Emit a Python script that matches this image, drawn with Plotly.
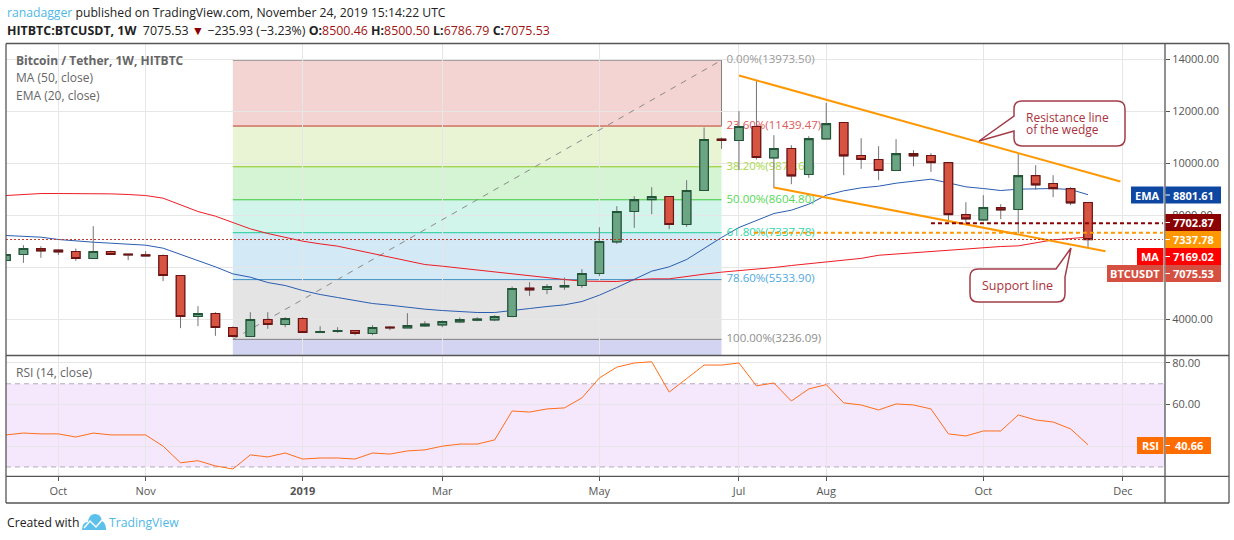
import pandas as pd
import plotly.graph_objects as go

W, H = 1234, 540
FONT = "Open Sans"

dates = pd.date_range("2018-09-10", periods=63, freq="7D")

opens = [6268, 6499, 6730, 6666, 6615, 6345, 6615, 6512, 6486, 6461, 5691, 4115, 4230, 3692, 3345, 3999,
         3807, 4038, 3499, 3538, 3576, 3461, 3704, 3679, 3756, 3794, 3909, 3973, 3986, 4115, 5204, 5153,
         5256, 5307, 5768, 6986, 8153, 8614, 8730, 7653, 8961, 10935, 10884, 11422, 10217, 10576, 9576,
         10947, 11576, 10307, 10153, 9730, 10383, 10307, 10037, 8037, 7832, 8307, 8230, 9537, 9230, 9037, 8500.46]
highs = [6510, 6858, 6820, 6691, 6730, 7589, 6653, 6512, 6627, 6499, 5691, 4512, 4281, 3730, 4281, 4281,
         4089, 4089, 3743, 3704, 3576, 3781, 3743, 4243, 3935, 3961, 4076, 4089, 4166, 5268, 5435, 5358,
         5614, 5935, 7550, 8358, 8743, 9089, 8730, 9358, 11384, 11000, 12012, 13204, 11089, 10704, 11050,
         12332, 11576, 10973, 10665, 10935, 10512, 10396, 10037, 8512, 8781, 8435, 10383, 9935, 9550, 9089, 8500.5]
lows = [6260, 6179, 6371, 6486, 6256, 6332, 6486, 6281, 6435, 5474, 3666, 3743, 3371, 3307, 3333, 3640,
        3704, 3486, 3486, 3486, 3397, 3397, 3589, 3679, 3730, 3704, 3871, 3935, 3935, 4089, 4909, 4974,
        5140, 5217, 5666, 6909, 7525, 8050, 7473, 7563, 8961, 10563, 9743, 10153, 9056, 9204, 9448,
        10947, 9550, 9794, 9358, 9730, 9896, 9678, 7819, 7717, 7794, 7858, 7319, 8986, 8704, 8396, 6786.79]
closes = [6499, 6730, 6640, 6602, 6345, 6615, 6499, 6486, 6448, 5691, 4115, 4230, 3692, 3345, 3999, 3807,
          4038, 3499, 3538, 3576, 3461, 3692, 3679, 3769, 3820, 3922, 3999, 4012, 4115, 5191, 5140, 5268,
          5307, 5768, 6999, 8153, 8614, 8730, 7653, 8961, 10922, 10884, 11422, 10230, 10576, 9524, 10960,
          11537, 10294, 10153, 9730, 10383, 10294, 10037, 8037, 7871, 8307, 8217, 9537, 9178, 9037, 8486, 7075.53]

ema_20 = [7230, 7204, 7166, 7076, 7012, 6973, 6935, 6897, 6858, 6743, 6512, 6281, 6025, 5755, 5627, 5422,
          5307, 5115, 4961, 4845, 4743, 4615, 4550, 4461, 4397, 4345, 4307, 4269, 4269, 4333, 4422, 4499,
          4563, 4692, 4935, 5230, 5538, 5858, 6025, 6307, 6730, 7153, 7538, 7794, 8076, 8204, 8435,
          8781, 8948, 9063, 9127, 9242, 9332, 9396, 9255, 9101, 9037, 8960, 9012, 9037, 9037, 8999, 8801.61]
ma_50 = [8768, 8807, 8845, 8845, 8845, 8845, 8832, 8807, 8768, 8666, 8422, 8153, 7973, 7730, 7486, 7307,
         7153, 7012, 6909, 6820, 6679, 6538, 6384, 6243, 6115, 6050, 5974, 5897, 5820, 5743, 5666, 5614,
         5538, 5474, 5461, 5461, 5525, 5563, 5563, 5666, 5743, 5820, 5871, 5922, 5999, 6076, 6150,
         6220, 6290, 6350, 6470, 6520, 6575, 6614, 6665, 6729, 6768, 6806, 6832, 6960, 7063, 7114, 7169.02]
rsi_14 = [45.4, 46.3, 45.9, 45.9, 44.4, 46.3, 45.4, 45.4, 45.4, 40, 32, 33, 30.5, 29, 35.8, 34.8,
          36.7, 33.8, 34.3, 34.3, 33.8, 36.7, 36.2, 37.7, 38.2, 40, 41, 41, 43, 56.9, 56.4, 57.9,
          58.4, 63.2, 72.8, 78, 80, 80.6, 66, 72.5, 79, 79, 80, 69, 70.4, 61.7, 67.5,
          69.6, 60.8, 59.8, 57.4, 60.3, 59.8, 57.9, 45.9, 44.9, 47.3, 47.3, 55, 52.6, 51.6, 48.3, 40.66]

fib_labels = ["0.00%(13973.50)", "23.60%(11439.47)", "38.20%(9873.68)", "50.00%(8604.80)",
              "61.80%(7337.78)", "78.60%(5533.90)", "100.00%(3236.09)"]
fib_prices = [13973.5, 11439.47, 9873.68, 8604.8, 7337.78, 5533.9, 3236.09]
fib_lines = ["#808080", "#c0392b", "#8bc81e", "#3cc83c", "#1ecd9b", "#3d8fc4", "#808080"]
fib_text = ["#9a9a9a", "#e0585a", "#a8d84a", "#55d855", "#2ed6a8", "#4fa9dd", "#8e8e8e"]
fib_fills = ["rgba(200,40,30,.2)", "rgba(145,200,40,.2)", "rgba(42,200,40,.2)", "rgba(30,205,155,.2)",
             "rgba(35,145,205,.2)", "rgba(120,120,120,.2)", "rgba(35,35,190,.2)"]

date_ticks = ["2018-10-01", "2018-11-05", "2019-01-07", "2019-03-04", "2019-05-06", "2019-07-01",
              "2019-08-05", "2019-10-07", "2019-12-02"]
date_labels = ["Oct", "Nov", "<b>2019</b>", "Mar", "May", "Jul", "Aug", "Oct", "Dec"]
price_ticks = [4000, 6000, 8000, 10000, 12000, 14000]
rsi_ticks = [40, 60, 80]
rsi_labels = ["", "60.00", "80.00"]  # the RSI tag covers 40.00

upper_x, upper_y = ["2019-07-01", "2019-12-01"], [13385, 9308]
lower_x, lower_y = ["2019-07-15", "2019-11-25"], [9077, 6627]

UP, UP_EDGE = "#6ba583", "#225437"
DOWN, DOWN_EDGE = "#d75442", "#6b1414"
WICK = "#737375"
AXIS = "#555555"
GRID = "#e6e6e6"


def px(x):
    return x / W


def py(y):
    return 1 - y / H


def box(x0, y0, x1, y1, color, layer="above"):
    return dict(type="rect", xref="paper", yref="paper", x0=px(x0), x1=px(x1), y0=py(y0), y1=py(y1),
                fillcolor=color, line_width=0, layer=layer)


def rule(x0, y0, x1, y1, color=AXIS, width=1.3):
    return dict(type="line", xref="paper", yref="paper", x0=px(x0), x1=px(x1), y0=py(y0), y1=py(y1),
                line=dict(color=color, width=width), layer="above")


def path(points, **kw):
    # points are (cmd, x, y) or (cmd, cx, cy, x, y) in screen pixels
    d = ""
    for p in points:
        if p[0] == "Z":
            d += "Z"
        else:
            d += p[0] + " ".join(f"{px(p[i]):.5f},{py(p[i + 1]):.5f}" for i in range(1, len(p), 2))
    return dict(type="path", xref="paper", yref="paper", path=d, layer="above", **kw)


def note(x, y, text, size=12, color=AXIS, anchor="left", **kw):
    return dict(xref="paper", yref="paper", x=px(x), y=py(y), text=text, showarrow=False, xanchor=anchor,
                yanchor="middle", align="left", font=dict(family=FONT, size=size, color=color),
                borderpad=0, **kw)


fig = go.Figure()

# base layer, stays behind the candles
fig.add_trace(go.Scatter(x=[dates[13], dates[41]], y=[fib_prices[6], fib_prices[0]], mode="lines",
                         line=dict(color="#8a8a8a", width=1, dash="6px,6px"), hoverinfo="skip"))
fig.add_trace(go.Scatter(x=dates, y=ma_50, mode="lines", line=dict(color="#ee1c25", width=1), hoverinfo="skip"))
fig.add_trace(go.Scatter(x=dates, y=ema_20, mode="lines", line=dict(color="#2a5db0", width=1), hoverinfo="skip"))
fig.add_trace(go.Scatter(x=["2019-06-26"] * 7, y=fib_prices, mode="text", text=fib_labels, textposition="middle right",
                         textfont=dict(family=FONT, size=11.5, color=fib_text), hoverinfo="skip"))

# candles: wicks first, then the bodies with a darker edge
fig.add_trace(go.Candlestick(x=dates, open=opens, high=highs, low=lows, close=closes, yaxis="y3",
                             whiskerwidth=0, hoverinfo="skip",
                             increasing=dict(fillcolor=UP, line=dict(color=WICK, width=1)),
                             decreasing=dict(fillcolor=DOWN, line=dict(color=WICK, width=1))))
fig.add_trace(go.Candlestick(x=dates, open=opens, close=closes, yaxis="y3",
                             high=[max(a, b) for a, b in zip(opens, closes)],
                             low=[min(a, b) for a, b in zip(opens, closes)],
                             whiskerwidth=0, hoverinfo="skip",
                             increasing=dict(fillcolor=UP, line=dict(color=UP_EDGE, width=1.2)),
                             decreasing=dict(fillcolor=DOWN, line=dict(color=DOWN_EDGE, width=1.2))))

# drawings on top
for xs, ys in [(upper_x, upper_y), (lower_x, lower_y)]:
    fig.add_trace(go.Scatter(x=xs, y=ys, mode="lines", yaxis="y3", line=dict(color="#ff9800", width=2), hoverinfo="skip"))
fig.add_trace(go.Scatter(x=[dates[53], "2019-12-18"], y=[7702.87, 7702.87], mode="lines", yaxis="y3",
                         line=dict(color="#8b0000", width=2, dash="4px,3px"), hoverinfo="skip"))
fig.add_trace(go.Scatter(x=["2019-07-07", "2019-12-18"], y=[7337.78, 7337.78], mode="lines", yaxis="y3",
                         line=dict(color="#ff9800", width=2, dash="4px,3px"), hoverinfo="skip"))
fig.add_trace(go.Scatter(x=[dates[0], "2019-12-18"], y=[closes[-1], closes[-1]], mode="lines", yaxis="y3",
                         line=dict(color="#c0392b", width=1, dash="2px,2px"), hoverinfo="skip"))

fig.add_trace(go.Scatter(x=dates, y=rsi_14, mode="lines", xaxis="x2", yaxis="y2",
                         line=dict(color="#ff6d1a", width=1), hoverinfo="skip"))

shapes = []
for i in range(7):
    top = fib_prices[i]
    bottom = fib_prices[i + 1] if i < 6 else 2615
    shapes.append(dict(type="rect", xref="x", yref="y", x0=dates[13], x1=dates[41], y0=bottom, y1=top,
                       fillcolor=fib_fills[i], line_width=0, layer="below"))
    shapes.append(dict(type="line", xref="x", yref="y", x0=dates[13], x1=dates[41], y0=top, y1=top,
                       line=dict(color=fib_lines[i], width=1), layer="below"))
shapes.append(dict(type="line", xref="x", yref="y", x0=dates[41], x1=dates[41], y0=fib_prices[1], y1=fib_prices[0],
                   line=dict(color="#808080", width=1), layer="below"))

# rsi band
shapes.append(dict(type="rect", xref="x2", yref="y2", x0=dates[0], x1="2019-12-18 21:00", y0=30, y1=70,
                   fillcolor="rgba(155,30,240,.1)", line_width=0, layer="below"))
for lvl in (30, 70):
    shapes.append(dict(type="line", xref="x2", yref="y2", x0=dates[0], x1="2019-12-18 21:00", y0=lvl, y1=lvl,
                       line=dict(color="#b5a8bd", width=1, dash="5px,4px"), layer="below"))

# frame
shapes += [rule(6, 43.5, 1229, 43.5), rule(6, 503, 1229, 503), rule(6, 43.5, 6, 503), rule(1229, 43.5, 1229, 503),
           rule(1165, 43.5, 1165, 503), rule(6, 355.5, 1229, 355.5), rule(6, 476.3, 1229, 476.3)]

annotations = [
    note(6, 12, '<span style="color:#4fb8e8">ranadagger</span> published on TradingView.com, November 24, 2019 15:14:22 UTC',
         size=12.2, color="#222222"),
    note(6, 30, '<b>HITBTC:BTCUSDT, 1W</b>  7075.53 <span style="color:#8b0000">▼</span> −235.93 (−3.23%) '
                '<b>O:</b><span style="color:#a01414">8500.46</span> <b>H:</b><span style="color:#a01414">8500.50</span> '
                '<b>L:</b><span style="color:#a01414">6786.79</span> <b>C:</b><span style="color:#a01414">7075.53</span>',
         size=12.4, color="#222222"),
    note(15, 60, "<b>Bitcoin / Tether, 1W, HITBTC</b>", size=12, color="#666666"),
    note(15, 77, "MA (50, close)", size=12, color="#666666"),
    note(15, 95, "EMA (20, close)", size=12, color="#666666"),
    note(15, 372, "RSI (14, close)", size=12, color="#666666"),
    note(6, 522, "Created with", size=12.2, color="#222222"),
    note(108, 522, "TradingView", size=12.2, color="#4fb8e8"),
]

# price tags on the axis
tags = [("EMA", "8801.61", "#0d47a1", 195, 1131), (None, "7702.87", "#8b0000", 222.5, None),
        (None, "7337.78", "#ff9800", 239.5, None), ("MA", "7169.02", "#ff0000", 256.5, 1137),
        ("BTCUSDT", "7075.53", "#d55040", 273.5, 1107), ("RSI", "40.66", "#ff6d00", 445.5, 1137)]
for name, value, color, y, left in tags:
    right = 1211 if name == "RSI" else 1221
    shapes.append(box(1165.5, y - 8.5, right, y + 8.5, color))
    shapes.append(rule(1165.5, y, 1170, y, color="#ffffff", width=1))
    annotations.append(note(1193 if name != "RSI" else 1189, y, f"<b>{value}</b>", size=11, color="#ffffff", anchor="center"))
    if name:
        shapes.append(box(left, y - 8.5, 1163.5, y + 8.5, color))
        annotations.append(note((left + 1163) / 2, y, f"<b>{name}</b>", size=11, color="#ffffff", anchor="center"))

# callouts
edge = dict(color="#a33c48", width=1.5)
shapes.append(path([("M", 1022, 101), ("L", 1117, 101), ("Q", 1125, 101, 1125, 109), ("L", 1125, 138),
                    ("Q", 1125, 146, 1117, 146), ("L", 1022, 146), ("Q", 1014, 146, 1014, 138), ("L", 1014, 131),
                    ("L", 979, 141), ("L", 1014, 116), ("L", 1014, 109), ("Q", 1014, 101, 1022, 101), ("Z",)],
                   fillcolor="#ffffff", line=edge))
shapes.append(path([("M", 978, 269), ("L", 1056, 269), ("L", 1071, 248), ("L", 1065, 277), ("L", 1065, 294),
                    ("Q", 1065, 302, 1057, 302), ("L", 978, 302), ("Q", 970, 302, 970, 294), ("L", 970, 277),
                    ("Q", 970, 269, 978, 269), ("Z",)], fillcolor="#ffffff", line=edge))
annotations += [note(1025, 117, "Resistance line", size=12, color="#a93240"),
                note(1025, 129, "of the wedge", size=12, color="#a93240"),
                note(1017.5, 285, "Support line", size=12.5, color="#a93240", anchor="center")]

# logo
shapes.append(path([("M", 82, 530), ("Q", 82, 522, 88, 522), ("Q", 89, 514, 95, 514), ("Q", 101, 514, 102, 521),
                    ("Q", 106, 523, 106, 530), ("Z",)], fillcolor="#5cc0ea", line_width=0))
shapes.append(path([("M", 84, 528), ("L", 90, 521), ("L", 96, 527), ("L", 103, 519)],
                   line=dict(color="#ffffff", width=1.5)))

x_range = ["2018-09-10", "2019-12-18 21:00"]
fig.update_layout(
    width=W, height=H, margin=dict(l=0, r=0, t=0, b=0), showlegend=False,
    paper_bgcolor="#ffffff", plot_bgcolor="#ffffff", boxgap=0.3, boxmode="overlay",
    shapes=shapes, annotations=annotations,
    xaxis=dict(domain=[px(6), px(1165)], anchor="y", range=x_range, rangeslider=dict(visible=False),
               tickvals=date_ticks, ticks="", showticklabels=False, showgrid=True, gridcolor=GRID, gridwidth=1, zeroline=False),
    xaxis2=dict(domain=[px(6), px(1165)], anchor="y2", range=x_range,
                tickvals=date_ticks, ticktext=date_labels, ticks="outside", ticklen=4, tickcolor=AXIS,
                tickfont=dict(family=FONT, size=11, color=AXIS), showgrid=True, gridcolor=GRID, zeroline=False),
    yaxis=dict(domain=[py(355.5), py(43.5)], anchor="x", side="right", range=[2615, 14615], tickvals=price_ticks,
               tickformat=".2f", ticks="outside", ticklen=4, tickcolor=AXIS, tickfont=dict(family=FONT, size=11, color=AXIS),
               showgrid=True, gridcolor=GRID, zeroline=False),
    yaxis3=dict(overlaying="y", anchor="x", side="right", range=[2615, 14615], visible=False, showgrid=False),
    yaxis2=dict(domain=[py(476.3), py(355.5)], anchor="x2", side="right", range=[25.5, 83.6], tickvals=rsi_ticks,
                ticktext=rsi_labels, ticks="outside", ticklen=4, tickcolor=AXIS, tickfont=dict(family=FONT, size=11, color=AXIS),
                showgrid=True, gridcolor=GRID, zeroline=False),
)

# the page's default body margin would shift everything by 8px
fig.write_html("out.html", config={"displayModeBar": False}, post_script="document.body.style.margin='0';")
